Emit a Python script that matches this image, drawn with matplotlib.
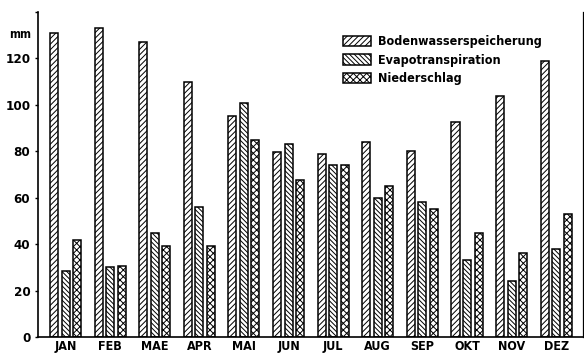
import matplotlib
matplotlib.use("Agg")
import matplotlib.pyplot as plt
import numpy as np

plt.rcParams['font.family'] = ['DejaVu Sans']
plt.rcParams['font.stretch'] = 'condensed'
plt.rcParams['hatch.linewidth'] = 0.7

months = ["JAN", "FEB", "MAE", "APR", "MAI", "JUN", "JUL", "AUG", "SEP", "OKT", "NOV", "DEZ"]
bodenwasser = [131, 133, 127, 110, 95, 79.5, 79, 84, 80, 92.5, 104, 119]
evapo = [28.5, 30, 45, 56, 101, 83, 74, 60, 58, 33, 24, 38]
niederschlag = [42, 30.5, 39, 39, 85, 67.5, 74, 65, 55, 45, 36, 53]
series_names = ["Bodenwasserspeicherung", "Evapotranspiration", "Niederschlag"]
yticks = [0, 20, 40, 60, 80, 100, 120, 140]
yticklabels = ["0", "20", "40", "60", "80", "100", "120", ""]

fig = plt.figure(figsize=(5.84, 3.54), dpi=100)
W, H = 584, 354
ax = fig.add_axes([38 / W, 1 - 337 / H, (583 - 38) / W, (337 - 12) / H])

x = np.arange(len(months))
bw = 0.18
off = 0.258
hatches = ['//////', '\\\\\\\\\\\\\\', 'xxxxx']
for i, (vals, h, name) in enumerate(zip([bodenwasser, evapo, niederschlag], hatches, series_names)):
    ax.bar(x + (i - 1) * off, vals, width=bw, facecolor='white', edgecolor='black',
           hatch=h, linewidth=1.1, label=name)

ax.set_xlim(-0.617, 11.60)
ax.set_ylim(0, 140)
ax.set_xticks(x)
ax.set_xticklabels(months, fontsize=9, fontweight='bold')
ax.tick_params(axis='x', length=0, pad=2)
ax.set_yticks(yticks)
ax.set_yticklabels(yticklabels, fontsize=9.5, fontweight='bold')
ax.tick_params(axis='y', length=2.5, width=1, pad=3, direction='out')
for s in ['left', 'bottom']:
    ax.spines[s].set_linewidth(1.2)
ax.spines['top'].set_visible(False)
ax.spines['right'].set_linewidth(0.9)

fig.text(20 / W, 1 - 34 / H, "mm", fontsize=8.5, fontweight='bold', ha='center', va='center')

leg = ax.legend(loc='upper left', bbox_to_anchor=((343 - 38) / (583 - 38), (337 - 35) / (337 - 12)),
                frameon=False, prop={'weight': 'bold', 'size': 9, 'stretch': 'condensed'},
                handlelength=2.2, handleheight=0.9, handletextpad=0.6, labelspacing=0.45,
                borderpad=0, borderaxespad=0)

fig.savefig("out.png", dpi=100)
